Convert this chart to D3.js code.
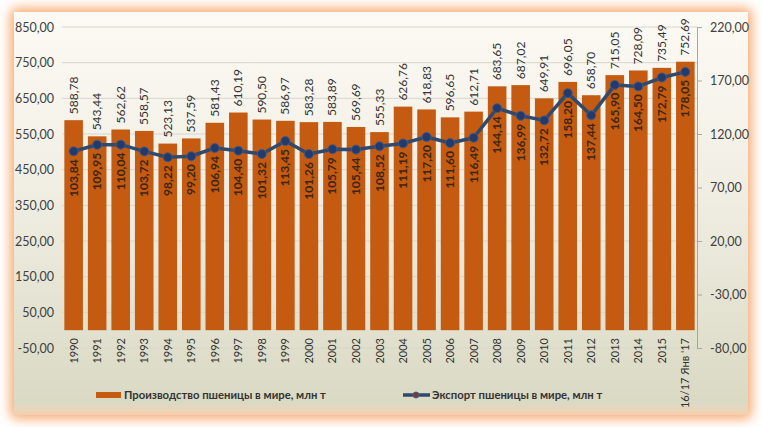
<!DOCTYPE html>
<html><head><meta charset="utf-8">
<script src="https://cdn.jsdelivr.net/npm/d3@7/dist/d3.min.js"></script>
<style>
html,body{margin:0;padding:0;background:#fff;}
svg{display:block;font-family:Lato,"Open Sans",sans-serif;}
</style></head>
<body>
<svg id="c" width="762" height="427"></svg>
<script>
const categories = ["1990","1991","1992","1993","1994","1995","1996","1997","1998","1999","2000","2001","2002","2003","2004","2005","2006","2007","2008","2009","2010","2011","2012","2013","2014","2015","16/17 Янв '17"];
const production = [588.78,543.44,562.62,558.57,523.13,537.59,581.43,610.19,590.50,586.97,583.28,583.89,569.69,555.33,626.76,618.83,596.65,612.71,683.65,687.02,649.91,696.05,658.70,715.05,728.09,735.49,752.69];
const exportVals = [103.84,109.95,110.04,103.72,98.22,99.20,106.94,104.40,101.32,113.45,101.26,105.79,105.44,108.52,111.19,117.20,111.60,116.49,144.14,136.99,132.72,158.20,137.44,165.90,164.50,172.79,178.05];
const leftTicks = [-50,50,150,250,350,450,550,650,750,850];
const rightTicks = [-80,-30,20,70,120,170,220];
const seriesNames = ["Производство пшеницы в мире, млн т","Экспорт пшеницы в мире, млн т"];

const fmt = v => (v < 0 ? "-" : "") + Math.abs(v).toFixed(2).replace(".", ",");
const svg = d3.select("#c");
const defs = svg.append("defs");

const glow = defs.append("filter").attr("id","glow").attr("x","-10%").attr("y","-10%").attr("width","120%").attr("height","120%");
glow.append("feGaussianBlur").attr("stdDeviation",6);
const bg = defs.append("linearGradient").attr("id","bg").attr("x1",0).attr("y1",0).attr("x2",0).attr("y2",1);
bg.append("stop").attr("offset","0%").attr("stop-color","#fcfaf4");
bg.append("stop").attr("offset","45%").attr("stop-color","#f0eee3");
bg.append("stop").attr("offset","100%").attr("stop-color","#d9d8c2");
const edge = defs.append("linearGradient").attr("id","edge").attr("x1",0).attr("y1",0).attr("x2",0).attr("y2",1);
edge.append("stop").attr("offset","0%").attr("stop-color","#f6d7bd").attr("stop-opacity",0);
edge.append("stop").attr("offset","100%").attr("stop-color","#f6cfae").attr("stop-opacity",1);

svg.append("rect").attr("x",10).attr("y",8).attr("width",742).attr("height",411).attr("rx",6)
  .attr("fill","#f8aa72").attr("filter","url(#glow)");
svg.append("rect").attr("x",14).attr("y",12).attr("width",734).attr("height",403).attr("fill","url(#bg)");
svg.append("rect").attr("x",14).attr("y",403).attr("width",734).attr("height",12).attr("fill","url(#edge)");

const x0 = 62, x1 = 697, yTop = 27, yBot = 348;
const x = d3.scaleBand().domain(categories).range([x0, x1]).paddingInner(0.21).paddingOuter(0.1);
const yL = d3.scaleLinear().domain([-50,850]).range([yBot, yTop]);
const yR = d3.scaleLinear().domain([-80,220]).range([yBot, yTop]);

svg.append("g").selectAll("line").data(leftTicks).join("line")
  .attr("x1",x0).attr("x2",x1).attr("y1",d=>yL(d)).attr("y2",d=>yL(d))
  .attr("stroke","#d8d6cb").attr("stroke-width",1);

const gl = svg.append("g").attr("transform",`translate(${x0-8},0)`)
  .call(d3.axisLeft(yL).tickValues(leftTicks).tickFormat(fmt).tickSize(0).tickPadding(0));
gl.select(".domain").remove();
gl.selectAll("text").attr("font-size",12.5).attr("fill","#404040").attr("font-family","Lato");

const gr = svg.append("g").attr("transform",`translate(${x1},0)`)
  .call(d3.axisRight(yR).tickValues(rightTicks).tickFormat(fmt).tickSize(5).tickPadding(8));
gr.select(".domain").attr("stroke","#a6a6a6");
gr.selectAll("line").attr("stroke","#a6a6a6");
gr.selectAll("text").attr("font-size",12.5).attr("fill","#404040").attr("font-family","Lato");

svg.append("g").selectAll("rect").data(production).join("rect")
  .attr("x",(d,i)=>x(categories[i])).attr("width",x.bandwidth())
  .attr("y",d=>yL(d)).attr("height",d=>yL(0)-yL(d))
  .attr("fill","#c55a11");

svg.append("g").selectAll("text").data(production).join("text")
  .attr("transform",(d,i)=>`translate(${x(categories[i])+x.bandwidth()/2+4},${yL(d)-6}) rotate(-90)`)
  .attr("font-size",12).attr("fill","#333").text(d=>fmt(d));

const line = d3.line().x((d,i)=>x(categories[i])+x.bandwidth()/2).y(d=>yR(d));
svg.append("path").datum(exportVals).attr("d",line).attr("fill","none")
  .attr("stroke","#2f4a6c").attr("stroke-width",3.5).attr("stroke-linejoin","round");
svg.append("g").selectAll("circle").data(exportVals).join("circle")
  .attr("cx",(d,i)=>x(categories[i])+x.bandwidth()/2).attr("cy",d=>yR(d)).attr("r",4.5)
  .attr("fill","#243a6b").attr("stroke","#3e5c8c").attr("stroke-width",1);

svg.append("g").selectAll("text").data(exportVals).join("text")
  .attr("transform",(d,i)=>`translate(${x(categories[i])+x.bandwidth()/2+4},${yR(d)+8}) rotate(-90)`)
  .attr("text-anchor","end").attr("font-size",12).attr("font-weight","bold").attr("fill","#3a2614").text(d=>fmt(d));

svg.append("g").selectAll("text").data(categories).join("text")
  .attr("transform",d=>`translate(${x(d)+x.bandwidth()/2+4},${338}) rotate(-90)`)
  .attr("text-anchor","end").attr("font-size",11).attr("fill","#333").text(d=>d);

const lg = svg.append("g");
lg.append("rect").attr("x",96).attr("y",392).attr("width",25).attr("height",6).attr("fill","#c55a11");
lg.append("text").attr("x",124).attr("y",399).attr("font-size",11.3).attr("font-weight","bold").attr("fill","#333").text(seriesNames[0]);
lg.append("line").attr("x1",403).attr("x2",430).attr("y1",395).attr("y2",395).attr("stroke","#2f4a6c").attr("stroke-width",3.5);
lg.append("circle").attr("cx",416).attr("cy",395).attr("r",3).attr("fill","#7a3a3a").attr("stroke","#3e5c8c");
lg.append("text").attr("x",432).attr("y",399).attr("font-size",11.3).attr("font-weight","bold").attr("fill","#333").text(seriesNames[1]);
</script>
</body></html>
